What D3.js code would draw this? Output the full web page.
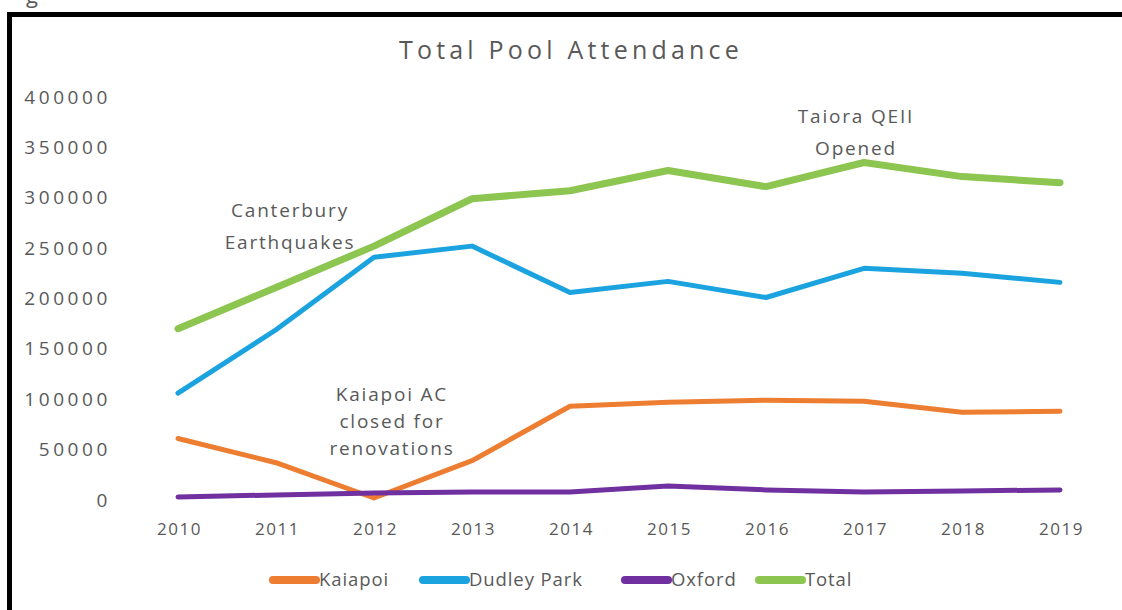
<!DOCTYPE html>
<html>
<head>
<meta charset="utf-8">
<script src="https://cdn.jsdelivr.net/npm/d3@7"></script>
<style>
  html, body { margin: 0; padding: 0; background: #fff; }
  svg { display: block; }
  text { font-family: "Open Sans", "Noto Sans", sans-serif; fill: #595959; }
</style>
</head>
<body>
<svg id="chart" width="1122" height="610"></svg>
<script>
// Attendance per pool, by year
const years   = ["2010", "2011", "2012", "2013", "2014", "2015", "2016", "2017", "2018", "2019"];
const kaiapoi = [61000, 37000, 2000, 39000, 93000, 97000, 99000, 98000, 87000, 88000];
const dudley  = [106000, 169000, 241000, 252000, 206000, 217000, 201000, 230000, 225000, 216000];
const oxford  = [3000, 5000, 7000, 8000, 8000, 14000, 10000, 8000, 9000, 10000];
const total   = [170000, 211000, 252000, 299000, 307000, 327000, 311000, 335000, 321000, 315000];
const yTicks  = [0, 50000, 100000, 150000, 200000, 250000, 300000, 350000, 400000];

const seriesNames  = ["Kaiapoi", "Dudley Park", "Oxford", "Total"];
const seriesValues = [kaiapoi, dudley, oxford, total];
const seriesColors = ["#ED7D31", "#1BA3E0", "#7030A0", "#8CC550"];
const seriesWidths = [5, 5, 5, 7];

// Notes placed at a year / value position (first baseline)
const notes = [
  { year: "2011", value: 281000, lines: ["Canterbury", "Earthquakes"], dx: 14, gap: 32 },
  { year: "2012", value: 98500, lines: ["Kaiapoi AC", "closed for", "renovations"], dx: 18, gap: 27 },
  { year: "2017", value: 374000, lines: ["Taiora QEII", "Opened"], dx: -8, gap: 32 }
];

const svg = d3.select("#chart");

// Frame (left and top edges)
svg.append("rect").attr("x", 7).attr("y", 12).attr("width", 5).attr("height", 598).attr("fill", "#000");
svg.append("rect").attr("x", 7).attr("y", 12).attr("width", 1115).attr("height", 5).attr("fill", "#000");
// Caption above the frame, mostly outside the page
svg.append("text").attr("x", 26).attr("y", 3).attr("font-size", 22).attr("fill", "#444").text("g");

const x = d3.scalePoint().domain(years).range([178, 1060]);
const y = d3.scaleLinear().domain([0, 400000]).range([500, 97]);

// Title
svg.append("text")
  .attr("x", 571).attr("y", 59)
  .attr("text-anchor", "middle")
  .attr("font-size", 25)
  .attr("letter-spacing", 4.2)
  .attr("fill", "#404040")
  .text("Total Pool Attendance");

// Y axis (labels only)
const yAxis = d3.axisLeft(y).tickValues(yTicks).tickFormat(d3.format("d")).tickSize(0).tickPadding(0);
const gy = svg.append("g").attr("transform", "translate(111,0)").call(yAxis);
gy.select(".domain").remove();
gy.selectAll("text")
  .attr("font-size", 19)
  .attr("letter-spacing", 3.6)
  .attr("fill", "#606060")
  .attr("font-family", null);

// X axis (labels only)
const xAxis = d3.axisBottom(x).tickSize(0).tickPadding(0);
const gx = svg.append("g").attr("transform", "translate(1,523)").call(xAxis);
gx.select(".domain").remove();
gx.selectAll("text")
  .attr("font-size", 17)
  .attr("letter-spacing", 1.5)
  .attr("fill", "#606060")
  .attr("font-family", null);

// Lines
const line = d3.line().x(d => x(d.year)).y(d => y(d.value));
seriesValues.forEach((vals, i) => {
  const pts = years.map((yr, j) => ({ year: yr, value: vals[j] }));
  svg.append("path")
    .datum(pts)
    .attr("fill", "none")
    .attr("stroke", seriesColors[i])
    .attr("stroke-width", seriesWidths[i])
    .attr("stroke-linejoin", "round")
    .attr("stroke-linecap", "round")
    .attr("d", line);
});

// Notes
notes.forEach(n => {
  const t = svg.append("text")
    .attr("x", x(n.year) + n.dx)
    .attr("y", y(n.value))
    .attr("text-anchor", "middle")
    .attr("font-size", 19)
    .attr("letter-spacing", 1.8)
    .attr("fill", "#505050");
  n.lines.forEach((s, k) => {
    t.append("tspan").attr("x", x(n.year) + n.dx).attr("dy", k === 0 ? 0 : n.gap).text(s);
  });
});

// Legend
const legendX = [270, 420, 622, 756];
const legend = svg.append("g").attr("transform", "translate(0,580)");
seriesNames.forEach((name, i) => {
  const g = legend.append("g").attr("transform", `translate(${legendX[i]},0)`);
  g.append("line")
    .attr("x1", 3).attr("x2", 46).attr("y1", 0).attr("y2", 0)
    .attr("stroke", seriesColors[i]).attr("stroke-width", 8).attr("stroke-linecap", "round");
  g.append("text")
    .attr("x", 49).attr("y", 0).attr("dy", "0.35em")
    .attr("font-size", 18.5)
    .attr("letter-spacing", 0.9)
    .attr("fill", "#595959")
    .text(name);
});
</script>
</body>
</html>
